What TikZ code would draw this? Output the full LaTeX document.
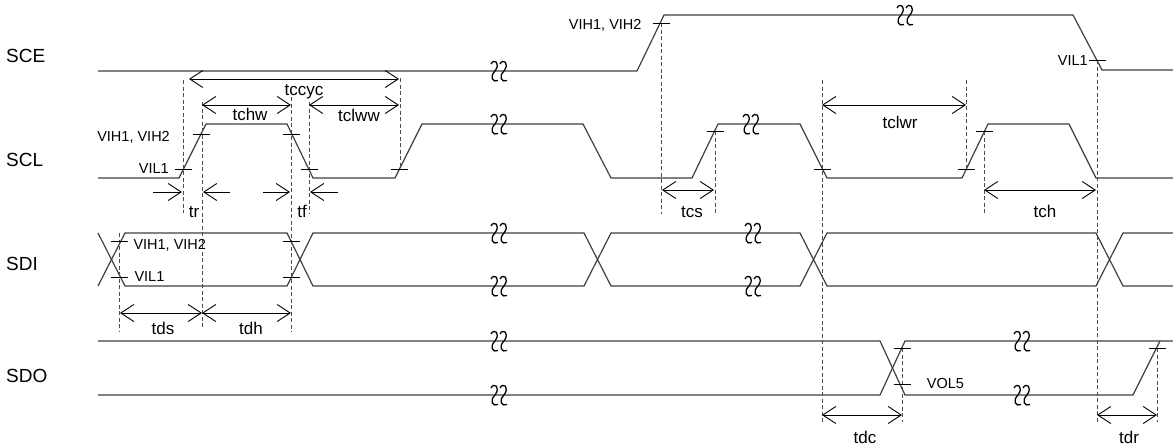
\documentclass[tikz,border=0pt]{standalone}
\usepackage{fontspec}
\setmainfont{Liberation Sans}
\usetikzlibrary{arrows.meta}
\begin{document}
\begin{tikzpicture}[x=1pt,y=-1pt,
  sig/.style={line width=1.2pt, draw=black!75, line join=miter},
  dsh/.style={line width=0.9pt, draw=black!70, dash pattern=on 4pt off 2.5pt},
  tickl/.style={line width=0.9pt, draw=black},
  barb/.tip={Straight Barb[length=13pt,width=17pt,line width=0.9pt]},
  dim/.style={line width=0.9pt, draw=black, barb-barb},
  half/.style={line width=0.9pt, draw=black, -barb},
  signame/.style={font=\fontsize{19}{22}\selectfont, anchor=base west, inner sep=0pt},
  tlab/.style={font=\fontsize{17}{20}\selectfont, anchor=base, inner sep=0pt},
  vlab/.style={font=\fontsize{14.5}{17}\selectfont, inner sep=0pt},
  brk/.pic={
    \draw[line width=1.3pt, black] (-8,-7) .. controls (-5,-13) and (2,-8) .. (-4,0) .. controls (-10,6) and (-6,12) .. (-1,9.5);
    \draw[line width=1.3pt, black] (1,-7) .. controls (4,-13) and (11,-8) .. (5,0) .. controls (-1,6) and (3,12) .. (8,9.5);
  }]
\useasboundingbox (0,0) rectangle (1173,447);
\fill[white] (0,0) rectangle (1173,447);

% ---------- signal names
\node[signame] (nSCE) at (6,62) {SCE};
\node[signame] (nSCL) at (6,166) {SCL};
\node[signame] (nSDI) at (6,270) {SDI};
\node[signame] (nSDO) at (6,382.5) {SDO};

% ---------- waveforms
% SCE
\draw[sig] (98,71) -- (637,71) -- (664,15) -- (1073,15) -- (1102,70) -- (1173,70);
% SCL
\draw[sig] (98,178) -- (179,178) -- (206,124) -- (287,124) -- (313,178) -- (395,178) -- (422,124)
  -- (583,124) -- (611,178) -- (692,178) -- (718,124) -- (800,124) -- (827,178) -- (962,178)
  -- (988,124) -- (1069,124) -- (1096,178) -- (1173,178);
% SDI
\draw[sig] (98,233) -- (125,286) -- (287,286) -- (313,233) -- (584,233) -- (611,286) -- (800,286)
  -- (827,233) -- (1096,233) -- (1123,286) -- (1173,286);
\draw[sig] (98,286) -- (125,233) -- (287,233) -- (313,286) -- (584,286) -- (611,233) -- (800,233)
  -- (827,286) -- (1096,286) -- (1123,233) -- (1173,233);
% SDO
\draw[sig] (98,341) -- (880,341) -- (905,395) -- (1133,395) -- (1160,341);
\draw[sig] (98,395) -- (880,395) -- (905,341) -- (1173,341);

% ---------- breaks
\foreach \p in {(499,71),(905,15),(499,124),(751,124),(499,233),(499,286),(753,233),(753,286),
                (499,341),(499,395),(1022,341),(1022,395)}
  \pic at \p {brk};

% ---------- dashed reference lines
\draw[dsh] (183,80) -- (183,213);
\draw[dsh] (202,102) -- (202,328);
\draw[dsh] (291,97) -- (291,332);
\draw[dsh] (309,102) -- (309,213);
\draw[dsh] (400,78) -- (400,169);
\draw[dsh] (119.5,233) -- (119.5,332);
\draw[dsh] (661,23) -- (661,214);
\draw[dsh] (715,131) -- (715,215);
\draw[dsh] (822,80) -- (822,422);
\draw[dsh] (966,80) -- (966,169);
\draw[dsh] (984,131) -- (984,215);
\draw[dsh] (1097,60) -- (1097,422);
\draw[dsh] (902,348) -- (902,422);
\draw[dsh] (1157,348) -- (1157,422);

% ---------- level ticks
\foreach \p in {(661,23),(1097,60),(183.5,169),(201,134),(291.5,134),(309,169),(399.5,169),
                (715,131),(822,169),(966,169),(984,131),(119.5,241),(119.5,277),(291,241),(291,277),
                (902,348),(902,384),(1157,348)}
  \draw[tickl] \p ++(-8.5,0) -- ++(17,0);

% ---------- dimension arrows
\draw[dim] (189,79) -- (399,79);
\draw[dim] (202,105) -- (291,105);
\draw[dim] (309,105) -- (399,105);
\draw[half] (153,192) -- (182,192);
\draw[half] (230,192) -- (203,192);
\draw[half] (263,192) -- (290,192);
\draw[half] (338,192) -- (310,192);
\draw[dim] (120,313) -- (202,313);
\draw[dim] (202,313) -- (291,313);
\draw[dim] (662,190) -- (714,190);
\draw[dim] (822,105) -- (966,105);
\draw[dim] (984,190) -- (1096,190);
\draw[dim] (822,415) -- (902,415);
\draw[dim] (1097,415) -- (1157,415);

% ---------- timing labels
\node[tlab] (ltccyc) at (304,95) {tccyc};
\node[tlab] (ltchw) at (250,120.7) {tchw};
\node[tlab] (ltclww) at (359,121.7) {tclww};
\node[tlab] (ltr) at (194,217) {tr};
\node[tlab] (ltf) at (302,217) {tf};
\node[tlab] (ltds) at (163,334.3) {tds};
\node[tlab] (ltdh) at (251,334.3) {tdh};
\node[tlab] (ltcs) at (692,217.3) {tcs};
\node[tlab] (ltclwr) at (900,128.3) {tclwr};
\node[tlab] (ltch) at (1045,217.3) {tch};
\node[tlab] (ltdc) at (865,443.3) {tdc};
\node[tlab] (ltdr) at (1129,443.3) {tdr};

% ---------- level labels
\node[vlab, anchor=base east] (vSCEh) at (641.7,29) {VIH1, VIH2};
\node[vlab, anchor=base east] (vSCEl) at (1088,65) {VIL1};
\node[vlab, anchor=base east] (vSCLh) at (170,141.7) {VIH1, VIH2};
\node[vlab, anchor=base east] (vSCLl) at (169,173.3) {VIL1};
\node[vlab, anchor=base west] (vSDIh) at (133.3,249.3) {VIH1, VIH2};
\node[vlab, anchor=base west] (vSDIl) at (134.3,281.7) {VIL1};
\node[vlab, anchor=base west] (vSDOl) at (926.7,388.3) {VOL5};
\end{tikzpicture}
\end{document}
